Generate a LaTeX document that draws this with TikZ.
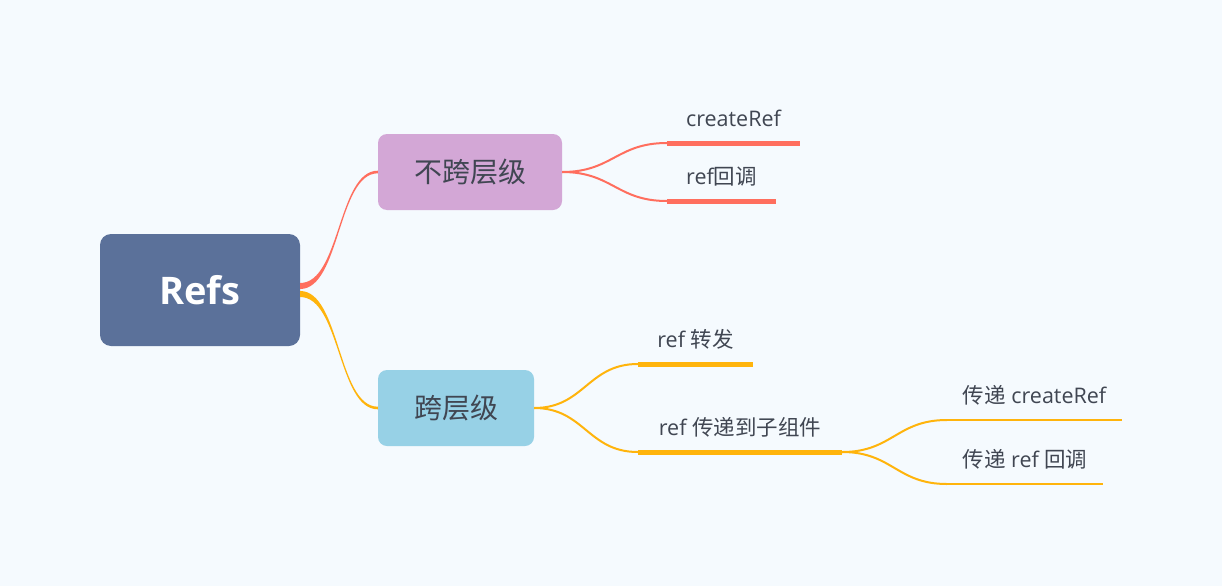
\documentclass[tikz,border=0pt]{standalone}
\usepackage{fontspec}
\setmainfont{Open Sans}
\newfontfamily\cjk{Noto Sans CJK SC}
\usetikzlibrary{positioning, calc}
\definecolor{bgcol}{RGB}{245,250,254}
\definecolor{rootcol}{RGB}{91,113,154}
\definecolor{pinkcol}{RGB}{211,167,214}
\definecolor{bluecol}{RGB}{151,209,230}
\definecolor{redcol}{RGB}{255,110,94}
\definecolor{yelcol}{RGB}{255,180,12}
\definecolor{txtcol}{RGB}{64,70,82}

\begin{document}
\begin{tikzpicture}[x=1pt, y=-1pt]
    % Block styles
    \tikzstyle{topic} = [rectangle, rounded corners=11pt, fill=rootcol, text=white, minimum width=200pt, minimum height=112pt, font=\fontsize{38}{44}\selectfont\bfseries]
    \tikzstyle{branch} = [rectangle, rounded corners=9pt, minimum height=76pt, text=txtcol, font=\fontsize{28}{32}\selectfont]
    \tikzstyle{leaf} = [rectangle, anchor=south, inner xsep=0pt, inner ysep=0pt, text height=15pt, text depth=16pt, text=txtcol, font=\fontsize{21.5}{25}\selectfont]
    \fill[bgcol] (0,0) rectangle (1222,586);
    % Topics
    \node[topic] (refs) at (200,290) {Refs};
    \node[branch, fill=pinkcol, minimum width=184pt] (same) at (470,172) {\cjk 不跨层级};
    \node[branch, fill=bluecol, minimum width=156pt] (cross) at (456,408) {\cjk 跨层级};
    % Leaves
    \node[leaf, minimum width=133pt] (create) at (733.5,143) {createRef};
    \node[leaf, minimum width=109pt] (callback) at (721.5,201) {ref{\cjk 回调}};
    \node[leaf, minimum width=115pt] (forward) at (695.5,364) {ref {\cjk 转发}};
    \node[leaf, minimum width=204pt] (pass) at (740,452) {ref {\cjk 传递到子组件}};
    \node[leaf, minimum width=175pt] (passcreate) at (1034.5,420) {{\cjk 传递} createRef};
    \node[leaf, minimum width=156pt] (passcb) at (1025,484) {{\cjk 传递} ref {\cjk 回调}};
    % Underlines
    \draw[redcol, line width=5pt] (create.south west) -- (create.south east);
    \draw[redcol, line width=5pt] (callback.south west) -- (callback.south east);
    \draw[yelcol, line width=5pt] (forward.south west) -- (forward.south east);
    \draw[yelcol, line width=5pt] (pass.south west) -- (pass.south east);
    \draw[yelcol, line width=2.5pt] (passcreate.south west) -- (passcreate.south east);
    \draw[yelcol, line width=2.5pt] (passcb.south west) -- (passcb.south east);
    % Connections
    \fill[redcol] ($(refs.east)+(0,-7)$) .. controls +(40,0) and +(-40,0) .. ($(same.west)+(0,-1.3)$) -- ($(same.west)+(0,1.3)$) .. controls +(-40,0) and +(40,0) .. ($(refs.east)+(0,-1)$) -- cycle;
    \fill[yelcol] ($(refs.east)+(0,1)$) .. controls +(40,0) and +(-40,0) .. ($(cross.west)+(0,-1.3)$) -- ($(cross.west)+(0,1.3)$) .. controls +(-40,0) and +(40,0) .. ($(refs.east)+(0,7)$) -- cycle;
    \draw[redcol, line width=2pt] (same.east) .. controls +(50,0) and +(-50,0) .. (create.south west);
    \draw[redcol, line width=2pt] (same.east) .. controls +(50,0) and +(-50,0) .. (callback.south west);
    \draw[yelcol, line width=2pt] (cross.east) .. controls +(50,0) and +(-50,0) .. (forward.south west);
    \draw[yelcol, line width=2pt] (cross.east) .. controls +(50,0) and +(-50,0) .. (pass.south west);
    \draw[yelcol, line width=2pt] (pass.south east) .. controls +(50,0) and +(-50,0) .. (passcreate.south west);
    \draw[yelcol, line width=2pt] (pass.south east) .. controls +(50,0) and +(-50,0) .. (passcb.south west);
\end{tikzpicture}
\end{document}
